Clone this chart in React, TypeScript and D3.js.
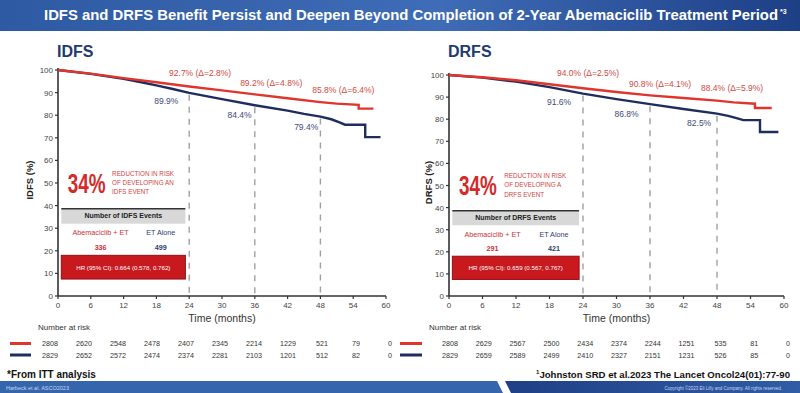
import React from "react";
import * as d3 from "d3";

const titleText = "IDFS and DRFS Benefit Persist and Deepen Beyond Completion of 2-Year Abemaciclib Treatment Period";
const xTicks = [0, 6, 12, 18, 24, 30, 36, 42, 48, 54, 60];
const yTicks = [0, 10, 20, 30, 40, 50, 60, 70, 80, 90, 100];
const landmarks = [24, 36, 48];

const idfsAbema: [number, number][] = [[0, 100], [6, 98.4], [12, 96.4], [18, 94.6], [24, 92.7], [30, 91.0], [36, 89.2], [42, 87.5], [48, 85.8], [51, 85.1], [55, 84.6], [55, 82.9], [57.7, 82.9]];
const idfsET: [number, number][] = [[0, 100], [6, 98.3], [12, 96.1], [15, 94.7], [18, 93.2], [21, 91.6], [24, 89.9], [30, 87.1], [36, 84.4], [42, 82.0], [45, 80.6], [48, 79.4], [50, 78.2], [51.5, 76.8], [52.5, 75.8], [56.2, 75.8], [56.2, 70.3], [59, 70.3]];
const drfsAbema: [number, number][] = [[0, 100], [6, 99.0], [12, 97.6], [18, 95.8], [24, 94.0], [30, 92.3], [36, 90.8], [42, 89.6], [48, 88.4], [51, 87.6], [54.8, 87.0], [54.8, 85.1], [57.8, 85.1]];
const drfsET: [number, number][] = [[0, 100], [6, 98.8], [12, 97.0], [18, 94.5], [24, 91.6], [30, 89.1], [36, 86.8], [42, 84.6], [48, 82.5], [50, 81.5], [51.5, 80.5], [52.7, 79.6], [55.7, 79.6], [55.7, 74.2], [59, 74.2]];

const idfsRedLabels = ["92.7% (Δ=2.8%)", "89.2% (Δ=4.8%)", "85.8% (Δ=6.4%)"];
const idfsRedPos: [number, number][] = [[26, 97.3], [39, 93.0], [52.2, 89.8]];
const idfsBlueLabels = ["89.9%", "84.4%", "79.4%"];
const idfsBluePos: [number, number][] = [[19.8, 85.0], [33.2, 78.8], [45.4, 73.5]];
const drfsRedLabels = ["94.0% (Δ=2.5%)", "90.8% (Δ=4.1%)", "88.4% (Δ=5.9%)"];
const drfsRedPos: [number, number][] = [[24.9, 99.4], [37.8, 94.4], [50.7, 92.6]];
const drfsBlueLabels = ["91.6%", "86.8%", "82.5%"];
const drfsBluePos: [number, number][] = [[19.7, 86.6], [31.8, 81.0], [44.8, 76.9]];

const idfsRiskAbema = [2808, 2620, 2548, 2478, 2407, 2345, 2214, 1229, 521, 79, 0];
const idfsRiskET = [2829, 2652, 2572, 2474, 2374, 2281, 2103, 1201, 512, 82, 0];
const drfsRiskAbema = [2808, 2629, 2567, 2500, 2434, 2374, 2244, 1251, 535, 81, 0];
const drfsRiskET = [2829, 2659, 2589, 2499, 2410, 2327, 2151, 1231, 526, 85, 0];

const idfsEvents = [336, 499];
const drfsEvents = [291, 421];
const idfsHR = "HR (95% CI): 0.664 (0.578, 0.762)";
const drfsHR = "HR (95% CI): 0.659 (0.567, 0.767)";
const idfsReduction = ["REDUCTION IN RISK", "OF DEVELOPING AN", "IDFS EVENT"];
const drfsReduction = ["REDUCTION IN RISK", "OF DEVELOPING A", "DRFS EVENT"];

const RED = "#e0342c";
const NAVY = "#1e2d5e";
const RED_TXT = "#cf4a43";
const NAVY_TXT = "#3d4b78";
const FONT = "'Liberation Sans', Arial, sans-serif";

type PanelProps = {
  title: string;
  yLabel: string;
  xr: [number, number];
  yr: [number, number];
  abema: [number, number][];
  et: [number, number][];
  redLabels: string[];
  redPos: [number, number][];
  blueLabels: string[];
  bluePos: [number, number][];
  riskAbema: number[];
  riskET: number[];
  riskX: [number, number];
  legendX: [number, number];
  events: number[];
  eventName: string;
  hr: string;
  reduction: string[];
  titleX: number;
  yLabelX: number;
  riskTitleX: number;
};

function Panel(p: PanelProps) {
  const x = d3.scaleLinear().domain([0, 60]).range(p.xr);
  const y = d3.scaleLinear().domain([0, 100]).range(p.yr);
  const line = d3.line<[number, number]>().x((d) => x(d[0])).y((d) => y(d[1]));
  const rx = d3.scaleLinear().domain([0, 60]).range(p.riskX);
  const etAt = (m: number) => {
    let v = 100;
    for (const d of p.et) if (d[0] <= m) v = d[1];
    return v;
  };
  const boxX0 = x(0.6);
  const boxX1 = x(23.3);
  const boxCx = (boxX0 + boxX1) / 2;
  const colA = x(7.8);
  const colB = x(18.8);
  return (
    <g fontFamily={FONT}>
      <text x={p.titleX} y={57} fontSize={16} fontWeight="bold" fill="#213a74">{p.title}</text>
      {landmarks.map((m) => (
        <line key={m} x1={x(m)} x2={x(m)} y1={y(etAt(m)) + 2} y2={y(0)} stroke="#a0a0a0" strokeWidth={1.4} strokeDasharray="6,6" />
      ))}
      <line x1={x(0)} x2={x(0)} y1={y(0)} y2={y(100) - 2} stroke="#333" strokeWidth={1.6} />
      <line x1={x(0)} x2={x(60)} y1={y(0)} y2={y(0)} stroke="#333" strokeWidth={1.6} />
      {yTicks.map((t) => (
        <g key={t}>
          <line x1={x(0) - 3} x2={x(0)} y1={y(t)} y2={y(t)} stroke="#333" strokeWidth={1.2} />
          <text x={x(0) - 5} y={y(t) + 3} fontSize={8} textAnchor="end" fill="#444">{t}</text>
        </g>
      ))}
      {xTicks.map((t) => (
        <g key={t}>
          <line x1={x(t)} x2={x(t)} y1={y(0)} y2={y(0) + 3} stroke="#333" strokeWidth={1.2} />
          <text x={x(t)} y={y(0) + 12} fontSize={8} textAnchor="middle" fill="#444">{t}</text>
        </g>
      ))}
      <text x={(x(0) + x(60)) / 2} y={y(0) + 26} fontSize={10.5} textAnchor="middle" fill="#333">Time (months)</text>
      <text transform={`translate(${p.yLabelX},${(y(0) + y(100)) / 2 - 3}) rotate(-90)`} fontSize={9.5} fontWeight="bold" textAnchor="middle" fill="#222">{p.yLabel}</text>
      <path d={line(p.et) || ""} fill="none" stroke={NAVY} strokeWidth={2.4} />
      <path d={line(p.abema) || ""} fill="none" stroke={RED} strokeWidth={2.4} />
      {p.redLabels.map((s, i) => (
        <text key={s} x={x(p.redPos[i][0])} y={y(p.redPos[i][1])} fontSize={8.5} textAnchor="middle" fill={RED_TXT}>{s}</text>
      ))}
      {p.blueLabels.map((s, i) => (
        <text key={s} x={x(p.bluePos[i][0])} y={y(p.bluePos[i][1])} fontSize={8.5} textAnchor="middle" fill={NAVY_TXT}>{s}</text>
      ))}
      <text transform={`translate(${x(1.8)},${y(45.6)}) scale(0.7,1)`} fontSize={27} fontWeight="bold" fill="#d42a2a">34%</text>
      {p.reduction.map((s, i) => (
        <text key={s} x={x(9.9)} y={y(53.2 - i * 4.1)} fontSize={6.3} fill="#d2453f">{s}</text>
      ))}
      <rect x={boxX0} y={y(38.6)} width={boxX1 - boxX0} height={y(32) - y(38.6)} fill="#d8d8d8" />
      <line x1={boxX0} x2={boxX1} y1={y(38.6)} y2={y(38.6)} stroke="#333" strokeWidth={1.4} />
      <text x={boxCx} y={y(34.3)} fontSize={7} fontWeight="bold" textAnchor="middle" fill="#222">{`Number of ${p.eventName} Events`}</text>
      <text x={colA} y={y(26.8)} fontSize={7.2} textAnchor="middle" fill="#c8333a">Abemaciclib + ET</text>
      <text x={colB} y={y(26.8)} fontSize={7.2} textAnchor="middle" fill="#2d3d70">ET Alone</text>
      <text x={colA} y={y(20.3)} fontSize={7.2} fontWeight="bold" textAnchor="middle" fill="#c8333a">{p.events[0]}</text>
      <text x={colB} y={y(20.3)} fontSize={7.2} fontWeight="bold" textAnchor="middle" fill="#2d3d70">{p.events[1]}</text>
      <rect x={boxX0} y={y(18)} width={boxX1 - boxX0} height={y(7.5) - y(18)} fill="#c8191f" stroke="#8e1016" strokeWidth={1} />
      <text x={boxCx} y={y(11.6)} fontSize={6.2} textAnchor="middle" fill="#fff">{p.hr}</text>
      <text x={p.riskTitleX} y={330} fontSize={8} fill="#333">Number at risk</text>
      <line x1={p.legendX[0]} x2={p.legendX[1]} y1={343.5} y2={343.5} stroke={RED} strokeWidth={3} />
      <line x1={p.legendX[0]} x2={p.legendX[1]} y1={355} y2={355} stroke={NAVY} strokeWidth={3} />
      {p.riskAbema.map((v, i) => (
        <text key={"a" + i} x={rx(xTicks[i])} y={346} fontSize={7.2} textAnchor="middle" fill="#333">{v}</text>
      ))}
      {p.riskET.map((v, i) => (
        <text key={"b" + i} x={rx(xTicks[i])} y={358} fontSize={7.2} textAnchor="middle" fill="#333">{v}</text>
      ))}
    </g>
  );
}

export default function App() {
  return (
    <div style={{ position: "absolute", left: 0, top: 0 }}>
      <svg width={800} height={393} viewBox="0 0 800 393" style={{ display: "block", background: "#fff" }}>
        <defs>
          <linearGradient id="hdr" x1="0" x2="1" y1="0" y2="0">
            <stop offset="0" stopColor="#2e5aa3" />
            <stop offset="0.55" stopColor="#3f6cb6" />
            <stop offset="1" stopColor="#1d3f86" />
          </linearGradient>
          <linearGradient id="ftr" x1="0" x2="1" y1="0" y2="0">
            <stop offset="0" stopColor="#1f3f86" />
            <stop offset="1" stopColor="#2f5da6" />
          </linearGradient>
        </defs>
        <rect x={0} y={0} width={800} height={31} fill="url(#hdr)" />
        <text x={44} y={20} fontFamily={FONT} fontSize={14.3} fontWeight="bold" fill="#fff" textLength={734} lengthAdjust="spacingAndGlyphs">{titleText}</text>
        <text x={780} y={14} fontFamily={FONT} fontSize={7} fontWeight="bold" fill="#fff">*3</text>
        <Panel
          title="IDFS" yLabel="IDFS (%)" xr={[58, 386]} yr={[296, 70]}
          abema={idfsAbema} et={idfsET}
          redLabels={idfsRedLabels} redPos={idfsRedPos} blueLabels={idfsBlueLabels} bluePos={idfsBluePos}
          riskAbema={idfsRiskAbema} riskET={idfsRiskET} riskX={[50, 390]} legendX={[10, 31]}
          events={idfsEvents} eventName="IDFS" hr={idfsHR} reduction={idfsReduction}
          titleX={57} yLabelX={33} riskTitleX={38}
        />
        <Panel
          title="DRFS" yLabel="DRFS (%)" xr={[449, 784]} yr={[296, 75]}
          abema={drfsAbema} et={drfsET}
          redLabels={drfsRedLabels} redPos={drfsRedPos} blueLabels={drfsBlueLabels} bluePos={drfsBluePos}
          riskAbema={drfsRiskAbema} riskET={drfsRiskET} riskX={[450, 788]} legendX={[400, 422]}
          events={drfsEvents} eventName="DRFS" hr={drfsHR} reduction={drfsReduction}
          titleX={448} yLabelX={432} riskTitleX={429}
        />
        <text x={7} y={378} fontFamily={FONT} fontSize={10} fontWeight="bold" fill="#111">*From ITT analysis</text>
        <text x={790} y={378} fontFamily={FONT} fontSize={9.6} fontWeight="bold" fill="#111" textAnchor="end">
          <tspan fontSize={6} dy={-4}>1</tspan>
          <tspan dy={4}>Johnston SRD et al.2023 The Lancet Oncol24(01):77-90</tspan>
        </text>
        <path d="M0,381 L497,381 L503,393 L0,393 Z" fill="#3565ad" />
        <path d="M505,381 L800,381 L800,393 L511,393 Z" fill="url(#ftr)" />
        <text x={6} y={390} fontFamily={FONT} fontSize={5.5} fill="#c8d6f0">Harbeck et al. ASCO2023</text>
        <text x={782} y={390} fontFamily={FONT} fontSize={4.5} fill="#c8d6f0" textAnchor="end">Copyright ©2023 Eli Lilly and Company. All rights reserved.</text>
      </svg>
    </div>
  );
}
